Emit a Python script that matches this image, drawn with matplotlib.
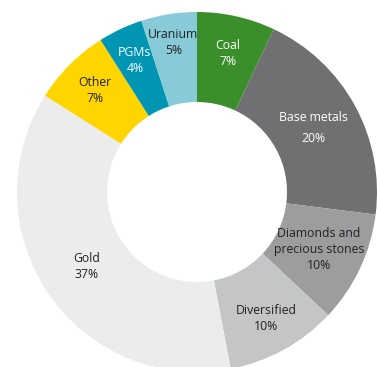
import numpy as np
import matplotlib
matplotlib.use("Agg")
import matplotlib.pyplot as plt

labels = ["Coal", "Base metals", "Diamonds and\nprecious stones", "Diversified",
          "Gold", "Other", "PGMs", "Uranium"]
shares = [7, 20, 10, 10, 37, 7, 4, 5]

colors = ["#3a8f2b", "#707072", "#9d9d9f", "#c4c5c6",
          "#ebecec", "#ffd500", "#0096b3", "#87cad8"]
text_colors = ["white", "white", "#222222", "#222222",
               "#222222", "#222222", "white", "#222222"]
# radial position of each label, as a fraction of the outer radius
label_r = [0.79, 0.74, 0.75, 0.80, 0.74, 0.80, 0.81, 0.84]
line_sp = [1.3, 1.75, 1.3, 1.3, 1.3, 1.3, 1.3, 1.3]

R = 180
fig = plt.figure(figsize=(3.77, 3.67), dpi=100)
ax = fig.add_axes([0, 0, 1, 1])
wedges, _ = ax.pie(shares, colors=colors, radius=R, startangle=90,
                   counterclock=False, wedgeprops=dict(width=R * 0.5, linewidth=0))

for w, lab, s, tc, lr, ls in zip(wedges, labels, shares, text_colors, label_r, line_sp):
    mid = np.deg2rad((w.theta1 + w.theta2) / 2)
    x = lr * R * np.cos(mid)
    y = lr * R * np.sin(mid)
    ax.text(x, y, f"{lab}\n{s}%", ha="center", va="center", color=tc,
            fontsize=8.8, family="Open Sans", linespacing=ls)

ax.set_xlim(-197, 180)
ax.set_ylim(-175, 192)
ax.set_aspect("equal")
ax.axis("off")
fig.savefig("out.png", dpi=100)
